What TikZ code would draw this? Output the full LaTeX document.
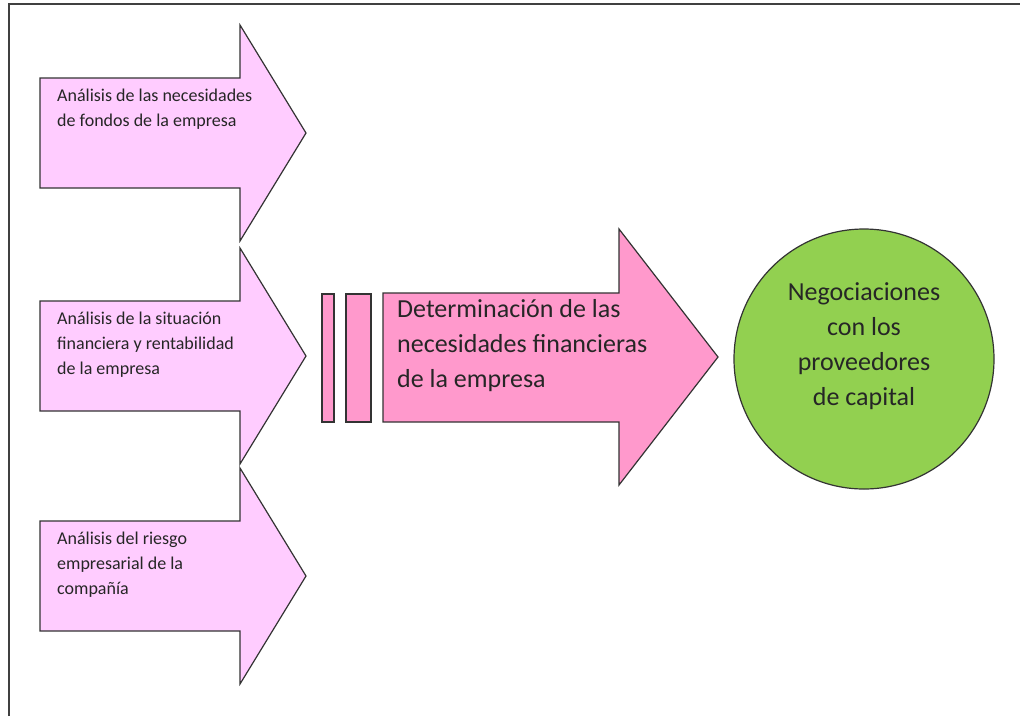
\documentclass[tikz,border=0pt]{standalone}
\usepackage{fontspec}
\setmainfont{Carlito}
\definecolor{rosaclaro}{HTML}{FFCCFF}
\definecolor{rosa}{HTML}{FF99CC}
\definecolor{verde}{HTML}{92D050}
\begin{document}
\begin{tikzpicture}[x=1pt,y=-1pt,line join=miter]
	\tikzset{flecha/.style={draw=black!80,line width=1.2pt},
		txtchico/.style={anchor=north west,align=left,inner sep=0pt,text=black!85,font=\fontsize{18}{25}\selectfont},
		txtgrande/.style={anchor=north west,align=left,inner sep=0pt,text=black!85,font=\fontsize{26}{35}\selectfont}}
	\useasboundingbox (0,0) rectangle (1020,716);
	\draw[line width=2pt,black!75] (9,716)--(9,4)--(1020,4);
	% flechas de analisis
	\foreach \i/\cy/\txt in {1/133/{Análisis de las necesidades\\de fondos de la empresa},
		2/356/{Análisis de la situación\\financiera y rentabilidad\\de la empresa},
		3/576/{Análisis del riesgo\\empresarial de la\\compañía}}{
		\draw[flecha,fill=rosaclaro] (40,\cy-55)--(240,\cy-55)--(240,\cy-108)--(306,\cy)--(240,\cy+108)--(240,\cy+55)--(40,\cy+55)--cycle;
		\node[txtchico] (analisis\i) at (57,\cy-44) {\txt};
	}
	% barras y flecha central
	\draw[flecha,fill=rosa] (322,294) rectangle (334,422);
	\draw[flecha,fill=rosa] (346,294) rectangle (371,422);
	\draw[flecha,fill=rosa] (383,293)--(619,293)--(619,229)--(718,357)--(619,485)--(619,422)--(383,422)--cycle;
	\node[txtgrande] (determinacion) at (397,299) {Determinación de las\\necesidades financieras\\de la empresa};
	% circulo
	\node[circle,draw=black!80,line width=1.2pt,fill=verde,minimum size=260pt] (negociacion) at (864,359) {};
	\node[align=center,inner sep=0pt,text=black!85,font=\fontsize{26}{35}\selectfont] (negociaciontxt) at (864,346) {Negociaciones\\con los\\proveedores\\de capital};
\end{tikzpicture}
\end{document}
